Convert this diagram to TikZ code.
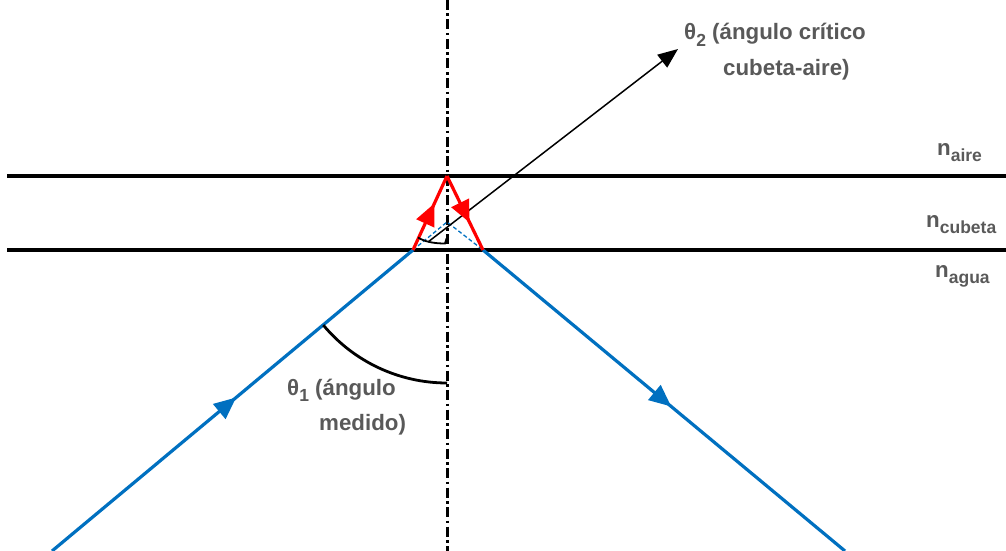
\documentclass[tikz,border=0pt]{standalone}
\usepackage{fontspec}
\setmainfont{Liberation Sans}
\usetikzlibrary{decorations.markings,arrows.meta}
\definecolor{rayblue}{RGB}{0,112,192}
\definecolor{txtgray}{RGB}{89,89,89}
\newcommand{\lsub}[1]{\raisebox{-0.3em}{\fontsize{17.5}{17.5}\selectfont #1}}
\begin{document}
\begin{tikzpicture}[x=1pt,y=-1pt,
  lbl/.style={font=\fontsize{22.3}{22.3}\selectfont\bfseries, text=txtgray, inner sep=0pt},
  interface/.style={line width=3.4pt, black},
  normalline/.style={line width=3pt, black, dash pattern=on 10pt off 3.5pt on 2.5pt off 3.5pt},
  blueray/.style={line width=3.2pt, rayblue},
  redray/.style={line width=3.2pt, red},
  ghost/.style={line width=1.3pt, rayblue, dash pattern=on 4pt off 2.5pt},
  midarrow/.style={postaction={decorate}, decoration={markings,
     mark=at position #1 with {\arrow{Triangle[length=22pt,width=19pt]}}}},
  anglearc/.style={line width=2.8pt, black},
  thinray/.style={line width=1.5pt, black, -{Triangle[length=20pt,width=16pt]}}
]
\useasboundingbox (0,0) rectangle (1006,551);

% coordinates
\coordinate (Ltop) at (7,176);
\coordinate (Rtop) at (1006,176);
\coordinate (Lbot) at (7,250);
\coordinate (Rbot) at (1006,250);
\coordinate (vtop) at (447,0);
\coordinate (vbot) at (447,551);
\coordinate (src) at (52,551);
\coordinate (P) at (413,250);
\coordinate (Q) at (483,250);
\coordinate (T) at (447,176);
\coordinate (V) at (447,222);
\coordinate (dst) at (845,551);
\coordinate (B0) at (428,242);
\coordinate (B1) at (678,49);

% interfaces
\draw[interface] (Ltop) -- (Rtop);
\draw[interface] (Lbot) -- (Rbot);

% normal
\draw[normalline] (vtop) -- (vbot);

% virtual extension
\draw[ghost] (P) -- (V) -- (Q);

% blue rays
\draw[blueray, midarrow=0.51] (src) -- (P);
\draw[blueray, midarrow=0.52] (Q) -- (dst);

% theta2 ray
\draw[thinray] (B0) -- (B1);

% red rays
\draw[redray, midarrow=0.63] (P) -- (T);
\draw[redray, midarrow=0.63] (T) -- (Q);

% angle arcs
\coordinate (a1s) at (323.3,325.1);
\coordinate (a1e) at (447,383);
\draw[anglearc] (a1s) .. controls (353.9,361.8) and (399.2,383) .. (a1e);
\coordinate (a2s) at (418,237.5);
\coordinate (a2e) at (445,243.5);
\draw[line width=1.8pt] (a2s) .. controls (425,242) and (435,243.5) .. (a2e) -- ++(1.5,-5);

% labels
\node[lbl, anchor=base west] (t2a) at (684,40) {θ\lsub{2} (ángulo crítico};
\node[lbl, anchor=base west] (t2b) at (723,75) {cubeta-aire)};
\node[lbl, anchor=base west] (t1a) at (287,395) {θ\lsub{1} (ángulo};
\node[lbl, anchor=base west] (t1b) at (319,430) {medido)};
\node[lbl, anchor=base west] (na) at (937,155) {n\lsub{aire}};
\node[lbl, anchor=base west] (nc) at (926,227) {n\lsub{cubeta}};
\node[lbl, anchor=base west] (ng) at (935,277) {n\lsub{agua}};
\end{tikzpicture}
\end{document}
